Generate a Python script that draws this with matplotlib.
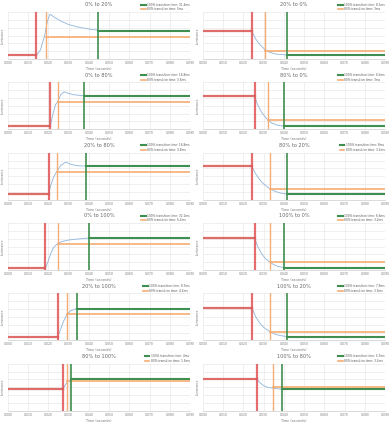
import matplotlib.pyplot as plt

# transitions, left column then right column, row by row
titles = ["0% to 20%", "20% to 0%", "0% to 80%", "80% to 0%", "20% to 80%", "80% to 20%",
          "0% to 100%", "100% to 0%", "20% to 100%", "100% to 20%", "80% to 100%", "100% to 80%"]
time100 = ["31.4ms", "8.1ms", "16.8ms", "6.5ms", "16.8ms", "8ms",
           "32.1ms", "6.6ms", "9.7ms", "7.9ms", "4ms", "5.7ms"]
time80 = ["5ms", "3ms", "3.6ms", "3ms", "3.8ms", "3.4ms",
          "6.4ms", "3.2ms", "4.4ms", "3.9ms", "1.6ms", "3.4ms"]

t_start = [0.0140, 0.0242, 0.0209, 0.0255, 0.0201, 0.0242, 0.0185, 0.0255, 0.0247, 0.0243, 0.0271, 0.0266]
t_80 = [0.0188, 0.0307, 0.0247, 0.0323, 0.0240, 0.0329, 0.0247, 0.0329, 0.0292, 0.0329, 0.0293, 0.0347]
t_100 = [0.0444, 0.0417, 0.0376, 0.0400, 0.0384, 0.0417, 0.0399, 0.0400, 0.0339, 0.0417, 0.0313, 0.0390]
start_level = [0.08, 0.62, 0.064, 0.745, 0.12, 0.745, 0.036, 0.72, 0.08, 0.72, 0.48, 0.71]
end_level = [0.635, 0.085, 0.745, 0.064, 0.75, 0.12, 0.715, 0.05, 0.71, 0.08, 0.70, 0.475]
level_80 = [0.49, 0.17, 0.61, 0.206, 0.61, 0.23, 0.58, 0.177, 0.58, 0.19, 0.66, 0.525]

curve_t = [
    [0.014, 0.016, 0.018, 0.0195, 0.0208, 0.023, 0.026, 0.030, 0.035, 0.040, 0.0444],
    [0.0242, 0.026, 0.028, 0.030, 0.0307, 0.033, 0.036, 0.0417],
    [0.0209, 0.022, 0.0235, 0.0247, 0.026, 0.0277, 0.030, 0.033, 0.0376],
    [0.0255, 0.027, 0.029, 0.031, 0.0323, 0.034, 0.037, 0.040],
    [0.0201, 0.021, 0.0225, 0.024, 0.026, 0.0285, 0.031, 0.034, 0.0384],
    [0.0242, 0.026, 0.028, 0.030, 0.0329, 0.036, 0.039, 0.0417],
    [0.0185, 0.0195, 0.021, 0.0225, 0.0247, 0.027, 0.030, 0.034, 0.0399],
    [0.0255, 0.027, 0.029, 0.031, 0.0329, 0.035, 0.037, 0.040],
    [0.0247, 0.026, 0.0275, 0.0292, 0.031, 0.0339],
    [0.0243, 0.026, 0.028, 0.030, 0.0329, 0.036, 0.039, 0.0417],
    [0.0271, 0.028, 0.0293, 0.0313],
    [0.0266, 0.028, 0.030, 0.032, 0.0347, 0.039],
]
curve_y = [
    [0.08, 0.2, 0.5, 0.85, 1.0, 0.93, 0.85, 0.77, 0.71, 0.67, 0.645],
    [0.62, 0.45, 0.33, 0.24, 0.2, 0.15, 0.11, 0.09],
    [0.064, 0.3, 0.55, 0.63, 0.77, 0.84, 0.8, 0.77, 0.75],
    [0.745, 0.55, 0.38, 0.26, 0.2, 0.14, 0.09, 0.07],
    [0.12, 0.3, 0.5, 0.62, 0.76, 0.84, 0.79, 0.76, 0.75],
    [0.745, 0.58, 0.45, 0.35, 0.25, 0.18, 0.14, 0.125],
    [0.036, 0.15, 0.35, 0.5, 0.6, 0.64, 0.67, 0.69, 0.715],
    [0.72, 0.53, 0.36, 0.25, 0.18, 0.12, 0.08, 0.055],
    [0.08, 0.25, 0.43, 0.58, 0.66, 0.71],
    [0.72, 0.53, 0.39, 0.29, 0.2, 0.13, 0.1, 0.085],
    [0.48, 0.55, 0.64, 0.70],
    [0.71, 0.63, 0.56, 0.52, 0.5, 0.48],
]

x_ticks = [0.0, 0.01, 0.02, 0.03, 0.04, 0.05, 0.06, 0.07, 0.08, 0.09]

W, H = 390, 422
fig = plt.figure(figsize=(W / 100, H / 100), dpi=100)
row_h = H / 6

for i in range(12):
    row, col = i // 2, i % 2
    left = 8 if col == 0 else 203
    top = row * row_h + 12
    ax = fig.add_axes([left / W, 1 - (top + 47) / H, 182 / W, 47 / H])
    ax.set_xlim(0, 0.09)
    ax.set_ylim(0, 1.05)

    ax.plot([0, t_start[i]], [start_level[i]] * 2, color="#d9534f", lw=1.6, alpha=0.85)
    ax.plot(curve_t[i], curve_y[i], color="#8fb4dc", lw=0.6)
    l100, = ax.plot([t_100[i], 0.09], [end_level[i]] * 2, color="#3f8f50", lw=1.5)
    l80, = ax.plot([t_80[i], 0.09], [level_80[i]] * 2, color="#f6ad73", lw=1.2)
    ax.axvline(t_start[i], color="#e05555", lw=1.6, alpha=0.85)
    ax.axvline(t_80[i], color="#f6ad73", lw=1.0)
    ax.axvline(t_100[i], color="#3f8f50", lw=1.2)

    ax.set_xticks(x_ticks)
    ax.set_xticklabels(["%.3f" % t for t in x_ticks], fontsize=2.2, color="#777777")
    ax.set_yticks([0, 0.175, 0.35, 0.525, 0.7, 0.875, 1.05])
    ax.set_yticklabels([])
    ax.tick_params(length=0, pad=1.5)
    ax.grid(True, color="#e4e4e4", lw=0.4)
    ax.set_axisbelow(True)
    for s in ["top", "right", "left"]:
        ax.spines[s].set_visible(False)
    ax.spines["bottom"].set_color("#cccccc")
    ax.spines["bottom"].set_linewidth(0.5)

    ax.set_title(titles[i], fontsize=3.6, color="#666666", pad=4)
    ax.set_xlabel("Time (seconds)", fontsize=2.4, color="#777777", labelpad=1.5)
    ax.set_ylabel("Luminance", fontsize=2.2, color="#777777", labelpad=1)
    ax.legend([l100, l80], ["100% transition time: " + time100[i], "80% transition time: " + time80[i]],
              loc="lower right", bbox_to_anchor=(1.0, 1.0), fontsize=2.1, frameon=False,
              handlelength=1.6, handletextpad=0.4, labelspacing=0.2, borderpad=0.1,
              borderaxespad=0.1, labelcolor="#555555")

fig.savefig("out.png", dpi=100, facecolor="white")
